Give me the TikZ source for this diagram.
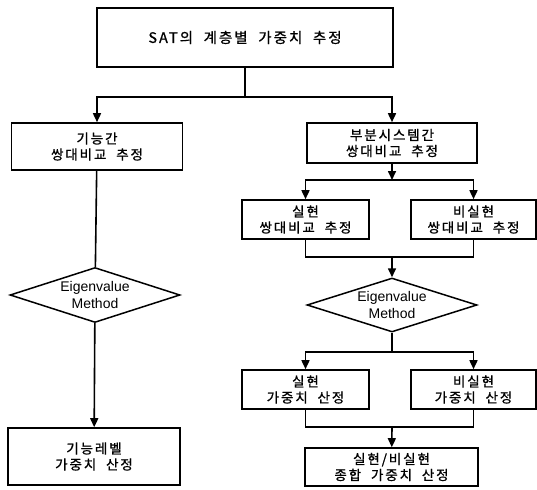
\documentclass[tikz,border=0pt]{standalone}
\usepackage{fontspec}
\setmainfont[LetterSpace=14,WordSpace=2,FakeBold=1]{Noto Sans CJK KR}
\newfontfamily\latinfont{Liberation Sans}
\usetikzlibrary{shapes.geometric}
\usetikzlibrary{arrows.meta}

\begin{document}
\begin{tikzpicture}[x=1pt,y=-1pt,
	box/.style={rectangle,draw,line width=1.6pt,align=center,inner sep=0pt,
		font=\fontsize{13.5}{16}\selectfont},
	decision/.style={diamond,draw,line width=1.5pt,align=center,inner sep=0pt,
		aspect=3,minimum width=170pt,minimum height=55pt,font=\latinfont\fontsize{14}{17}\selectfont},
	link/.style={line width=1.6pt},
	arr/.style={link,-{Triangle[width=8pt,length=9pt]}}
	]
	\useasboundingbox (0,0) rectangle (537,489);
	\node[box,minimum width=296pt,minimum height=59pt,font=\fontsize{14.5}{18}\selectfont](top) at (245,37.5){SAT의 계층별 가중치 추정};
	% left branch
	\node[box,minimum width=171pt,minimum height=47pt](fnPair) at (97,146.5){기능간\\쌍대비교 추정};
	\node[decision](fnEig) at (95,295){Eigenvalue\\Method};
	\node[box,minimum width=172pt,minimum height=57pt](fnWeight) at (94,456.5){기능레벨\\가중치 산정};
	% right branch
	\node[box,minimum width=170pt,minimum height=40pt](subPair) at (392,143){부분시스템간\\쌍대비교 추정};
	\node[box,minimum width=127pt,minimum height=39pt](realPair) at (305.5,219.5){실현\\쌍대비교 추정};
	\node[box,minimum width=125pt,minimum height=39pt](unrealPair) at (473.5,219.5){비실현\\쌍대비교 추정};
	\node[decision,minimum height=54pt](subEig) at (392,305){Eigenvalue\\Method};
	\node[box,minimum width=127pt,minimum height=39pt](realWeight) at (305.5,389.5){실현\\가중치 산정};
	\node[box,minimum width=125pt,minimum height=39pt](unrealWeight) at (473.5,389.5){비실현\\가중치 산정};
	\node[box,minimum width=173pt,minimum height=38pt](totalWeight) at (391.5,467){실현/비실현\\종합 가중치 산정};
	% junctions
	\coordinate (topSplit) at (245,97);
	\coordinate (subSplit) at (392,180);
	\coordinate (pairMerge) at (392,257);
	\coordinate (eigSplit) at (392,352);
	\coordinate (weightMerge) at (392,427);
	% connectors
	\draw[link] (top) -- (topSplit);
	\draw[arr] (topSplit) -| (fnPair);
	\draw[arr] (topSplit) -| (subPair);
	\draw[link] (fnPair) -- (fnEig);
	\draw[arr] (fnEig) -- (fnWeight);
	\draw[arr] (subPair) -- (subSplit);
	\draw[arr] (subSplit) -| (realPair);
	\draw[arr] (subSplit) -| (unrealPair);
	\draw[link] (realPair) |- (pairMerge);
	\draw[link] (unrealPair) |- (pairMerge);
	\draw[arr] (pairMerge) -- (subEig);
	\draw[link] (subEig) -- (eigSplit);
	\draw[arr] (eigSplit) -| (realWeight);
	\draw[arr] (eigSplit) -| (unrealWeight);
	\draw[link] (realWeight) |- (weightMerge);
	\draw[link] (unrealWeight) |- (weightMerge);
	\draw[arr] (weightMerge) -- (totalWeight);
\end{tikzpicture}
\end{document}
